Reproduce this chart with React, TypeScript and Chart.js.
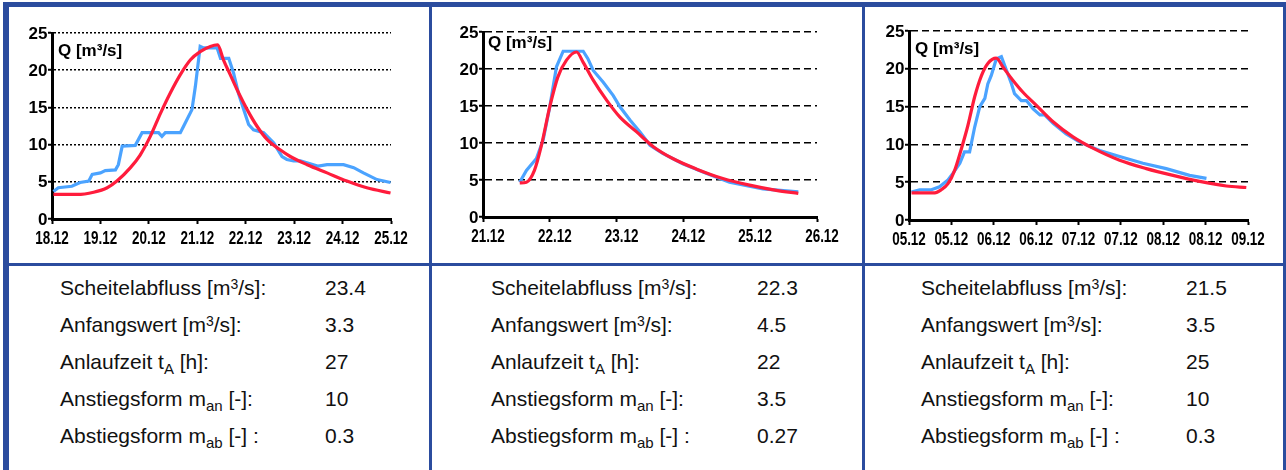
import React, { useEffect, useRef } from "react";
import { Chart, registerables } from "chart.js";
Chart.register(...registerables);

// ---------- data ----------
const ticks1 = ["18.12", "19.12", "20.12", "21.12", "22.12", "23.12", "24.12", "25.12"];
const ticks2 = ["21.12", "22.12", "23.12", "24.12", "25.12", "26.12"];
const ticks3 = ["05.12", "05.12", "06.12", "06.12", "07.12", "07.12", "08.12", "08.12", "09.12"];

// observed discharge (blue), x in tick units
const observed1: [number, number][] = [
  [0.03, 3.7], [0.13, 4.2], [0.41, 4.4], [0.58, 4.9], [0.76, 5.1], [0.83, 6.0], [1.0, 6.2], [1.1, 6.5],
  [1.31, 6.6], [1.37, 7.3], [1.45, 9.8], [1.72, 9.9], [1.86, 11.6], [2.2, 11.6], [2.27, 11.1], [2.34, 11.6],
  [2.65, 11.6], [2.72, 12.5], [2.89, 14.7], [2.96, 17.8], [3.06, 23.2], [3.13, 23.0], [3.41, 23.0],
  [3.48, 21.6], [3.65, 21.6], [3.75, 19.6], [3.85, 16.9], [3.96, 14.7], [4.06, 12.7], [4.16, 12.0],
  [4.37, 11.6], [4.58, 10.2], [4.75, 8.4], [4.85, 8.0], [4.99, 7.8], [5.13, 7.8], [5.4, 7.3], [5.5, 7.1],
  [5.68, 7.3], [6.02, 7.3], [6.23, 6.9], [6.43, 6.2], [6.71, 5.3], [6.99, 4.9],
];
// modelled discharge (red)
const model1: [number, number][] = [
  [0.03, 3.3], [0.52, 3.3], [0.86, 3.6], [1.14, 4.2], [1.34, 5.1], [1.62, 6.9], [1.82, 8.6], [2.03, 11.1],
  [2.24, 14.2], [2.44, 16.9], [2.65, 19.4], [2.86, 21.4], [3.06, 22.5], [3.27, 23.2], [3.42, 23.4],
  [3.54, 21.4], [3.68, 19.4], [3.82, 17.4], [4.03, 14.7], [4.23, 12.5], [4.44, 10.7], [4.71, 9.3],
  [4.92, 8.4], [5.27, 7.3], [5.68, 6.2], [6.09, 5.1], [6.5, 4.2], [6.99, 3.5],
];

const observed2: [number, number][] = [
  [0.55, 4.7], [0.65, 6.3], [0.8, 7.9], [0.9, 10.4], [1.0, 14.9], [1.1, 20.3], [1.2, 22.4], [1.5, 22.4],
  [1.57, 21.4], [1.65, 19.8], [1.8, 18.2], [1.95, 16.4], [2.05, 14.9], [2.2, 13.1], [2.35, 11.5],
  [2.5, 9.7], [2.69, 8.6], [2.99, 7.2], [3.34, 5.9], [3.69, 4.7], [4.19, 3.8], [4.72, 3.4],
];
const model2: [number, number][] = [
  [0.55, 4.6], [0.65, 4.7], [0.77, 6.3], [0.87, 9.5], [1.0, 14.9], [1.12, 18.9], [1.25, 21.2], [1.4, 22.3],
  [1.5, 20.9], [1.65, 18.5], [1.85, 15.8], [2.05, 13.5], [2.3, 11.5], [2.55, 9.5], [2.84, 7.9],
  [3.19, 6.5], [3.59, 5.2], [3.99, 4.3], [4.39, 3.6], [4.72, 3.2],
];

const observed3: [number, number][] = [
  [0.06, 3.7], [0.25, 4.0], [0.53, 4.0], [0.72, 4.4], [0.92, 5.3], [1.04, 6.2], [1.2, 7.5], [1.31, 9.0],
  [1.43, 9.0], [1.55, 12.3], [1.67, 15.0], [1.79, 16.1], [1.86, 18.0], [1.94, 19.1], [2.06, 21.3],
  [2.18, 21.6], [2.3, 19.8], [2.42, 18.0], [2.49, 16.7], [2.65, 15.8], [2.77, 15.8], [2.93, 14.7],
  [3.09, 13.9], [3.2, 13.9], [3.4, 12.8], [3.71, 11.4], [4.03, 10.3], [4.5, 9.2], [4.97, 8.4],
  [5.52, 7.5], [6.07, 6.8], [6.62, 5.9], [7.02, 5.5],
];
const model3: [number, number][] = [
  [0.06, 3.6], [0.61, 3.6], [0.76, 4.0], [0.92, 4.8], [1.08, 6.6], [1.24, 9.5], [1.39, 12.5], [1.55, 16.3],
  [1.71, 19.1], [1.86, 20.7], [2.06, 21.4], [2.22, 20.2], [2.45, 18.5], [2.69, 16.9], [3.0, 15.2],
  [3.4, 13.0], [3.87, 11.0], [4.34, 9.5], [4.97, 7.9], [5.6, 6.8], [6.23, 5.9], [6.86, 5.1], [7.49, 4.5],
  [7.96, 4.3],
];

const yTicks = [0, 5, 10, 15, 20, 25];

// table values
const peakFlow = ["23.4", "22.3", "21.5"];
const startValue = ["3.3", "4.5", "3.5"];
const riseTime = ["27", "22", "25"];
const riseShape = ["10", "3.5", "10"];
const fallShape = ["0.3", "0.27", "0.3"];

// ---------- styles ----------
const BLUE = "#4ba3ff";
const RED = "#ff1c3c";
const FRAME = "#2b4c9e";
const LABEL_FAMILY = "'Liberation Sans', Arial, sans-serif";

type PanelCfg = {
  left: number;
  top: number;
  width: number;
  height: number;
  padTop: number;
  padRight: number;
  yW: number;
  xH: number;
  labels: string[];
  observed: [number, number][];
  model: [number, number][];
  dash: number[];
  labelOffset: number;
  qX: number;
  qY: number;
};

const panels: PanelCfg[] = [
  { left: 9, top: 7, width: 420, height: 256, padTop: 26, padRight: 38, yW: 43, xH: 44, labels: ticks1, observed: observed1, model: model1, dash: [2, 2], labelOffset: 0, qX: 49, qY: 44 },
  { left: 432, top: 7, width: 430, height: 256, padTop: 25, padRight: 45, yW: 51, xH: 46, labels: ticks2, observed: observed2, model: model2, dash: [7, 4], labelOffset: 5, qX: 56, qY: 36 },
  { left: 865, top: 7, width: 418, height: 256, padTop: 24, padRight: 35, yW: 44, xH: 43, labels: ticks3, observed: observed3, model: model3, dash: [7, 4], labelOffset: 0, qX: 50, qY: 42 },
];

function ChartPanel({ cfg }: { cfg: PanelCfg }) {
  const ref = useRef<HTMLCanvasElement | null>(null);
  useEffect(() => {
    if (!ref.current) return;
    const labelPlugin = {
      id: "labels",
      afterDraw(chart: any) {
        const ctx = chart.ctx;
        const xs = chart.scales.x;
        const ys = chart.scales.y;
        const area = chart.chartArea;
        ctx.save();
        ctx.fillStyle = "#000";
        // Q label
        ctx.font = `bold 17px ${LABEL_FAMILY}`;
        ctx.textBaseline = "middle";
        ctx.textAlign = "left";
        ctx.fillText("Q [m³/s]", cfg.qX, cfg.qY);
        // x tick labels (condensed bold)
        ctx.font = `bold 17.5px ${LABEL_FAMILY}`;
        ctx.textAlign = "center";
        cfg.labels.forEach((lab, i) => {
          const x = xs.getPixelForValue(i) + cfg.labelOffset;
          const y = area.bottom + 20;
          ctx.save();
          ctx.translate(x, y);
          ctx.scale(0.77, 1);
          ctx.fillText(lab, 0, 0);
          ctx.restore();
        });
        // y tick labels
        ctx.font = `bold 17px ${LABEL_FAMILY}`;
        ctx.textAlign = "right";
        yTicks.forEach((v) => {
          const y = ys.getPixelForValue(v) + 1;
          ctx.fillText(String(v), area.left - 4.5, y);
        });
        ctx.restore();
      },
    };
    const chart = new Chart(ref.current, {
      type: "line",
      data: {
        datasets: [
          {
            data: cfg.model.map(([x, y]) => ({ x, y })),
            borderColor: RED,
            borderWidth: 3.2,
            pointRadius: 0,
            tension: 0.4,
            cubicInterpolationMode: "monotone",
            order: 1,
          },
          {
            data: cfg.observed.map(([x, y]) => ({ x, y })),
            borderColor: BLUE,
            borderWidth: 3.2,
            pointRadius: 0,
            tension: 0,
            order: 2,
          },
        ],
      },
      options: {
        animation: false,
        responsive: false,
        maintainAspectRatio: false,
        layout: { padding: { left: 0, top: cfg.padTop, right: cfg.padRight, bottom: 0 } },
        plugins: { legend: { display: false }, tooltip: { enabled: false } },
        scales: {
          x: {
            type: "linear",
            min: 0,
            max: cfg.labels.length - 1,
            afterFit: (s: any) => {
              s.height = cfg.xH;
            },
            afterBuildTicks: (s: any) => {
              s.ticks = cfg.labels.map((_, i) => ({ value: i }));
            },
            ticks: { display: false },
            grid: {
              drawOnChartArea: false,
              drawTicks: true,
              tickLength: 5,
              tickColor: "#000",
              tickWidth: 2,
            },
            border: { color: "#000", width: 3 },
          },
          y: {
            min: 0,
            max: 25,
            afterFit: (s: any) => {
              s.width = cfg.yW;
            },
            afterBuildTicks: (s: any) => {
              s.ticks = yTicks.map((v) => ({ value: v }));
            },
            ticks: { display: false },
            grid: {
              color: "#000",
              lineWidth: 1.5,
              tickBorderDash: [],
              tickLength: 4,
              tickColor: "#000",
              tickWidth: 2,
            },
            border: { color: "#000", width: 3, dash: cfg.dash },
          },
        },
      } as any,
      plugins: [labelPlugin],
    });
    return () => chart.destroy();
  }, [cfg]);
  return (
    <canvas
      ref={ref}
      width={cfg.width}
      height={cfg.height}
      style={{ position: "absolute", left: cfg.left, top: cfg.top, width: cfg.width, height: cfg.height }}
    />
  );
}

const tableLefts = [
  { label: 60, value: 325 },
  { label: 491, value: 757 },
  { label: 921, value: 1186 },
];
const rowTops = [278, 315, 352, 389, 426];

const supStyle: React.CSSProperties = { fontSize: 14, verticalAlign: "6px", lineHeight: 0 };
const subStyle: React.CSSProperties = { fontSize: 15, verticalAlign: "-5px", lineHeight: 0 };

function Table({ idx }: { idx: number }) {
  const L = tableLefts[idx];
  const rows: [React.ReactNode, string][] = [
    [<>Scheitelabfluss [m<span style={supStyle}>3</span>/s]:</>, peakFlow[idx]],
    [<>Anfangswert [m<span style={supStyle}>3</span>/s]:</>, startValue[idx]],
    [<>Anlaufzeit t<span style={subStyle}>A</span> [h]:</>, riseTime[idx]],
    [<>Anstiegsform m<span style={subStyle}>an</span> [-]:</>, riseShape[idx]],
    [<>Abstiegsform m<span style={subStyle}>ab</span> [-] :</>, fallShape[idx]],
  ];
  return (
    <>
      {rows.map(([lab, val], i) => (
        <React.Fragment key={i}>
          <div style={{ position: "absolute", left: L.label, top: rowTops[i], lineHeight: "20px", whiteSpace: "nowrap" }}>{lab}</div>
          <div style={{ position: "absolute", left: L.value, top: rowTops[i], lineHeight: "20px", whiteSpace: "nowrap" }}>{val}</div>
        </React.Fragment>
      ))}
    </>
  );
}

export default function App() {
  const bar = (left: number, top: number, width: number, height: number): React.CSSProperties => ({
    position: "absolute",
    left,
    top,
    width,
    height,
    background: FRAME,
  });
  return (
    <div
      style={{
        position: "fixed",
        left: 0,
        top: 0,
        width: 1286,
        height: 470,
        background: "#fff",
        overflow: "hidden",
        fontFamily: LABEL_FAMILY,
        fontSize: 21,
        color: "#111",
      }}
    >
      {panels.map((p, i) => (
        <ChartPanel key={i} cfg={p} />
      ))}
      {[0, 1, 2].map((i) => (
        <Table key={i} idx={i} />
      ))}
      <div style={bar(3, 2, 1282, 5)} />
      <div style={bar(3, 2, 6, 468)} />
      <div style={bar(1283, 2, 3, 468)} />
      <div style={bar(429, 2, 3, 468)} />
      <div style={bar(862, 2, 3, 468)} />
      <div style={bar(3, 263, 1282, 3)} />
    </div>
  );
}
